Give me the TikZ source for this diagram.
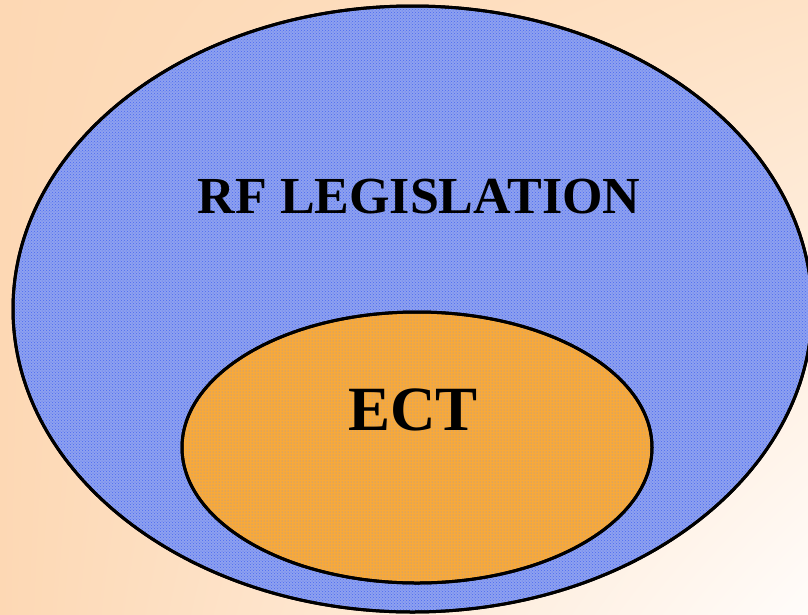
\documentclass[tikz,border=0pt]{standalone}
\usepackage{fontspec}
\setmainfont{Liberation Serif}
\usetikzlibrary{shapes.geometric,patterns,shadings}
\definecolor{peach}{HTML}{FDD8B4}
\definecolor{peachlight}{HTML}{FEE2C6}
\definecolor{paper}{HTML}{FFFCFA}
\definecolor{setblue}{HTML}{8EA1EF}
\definecolor{dotblue}{HTML}{4A6AF2}
\definecolor{setorange}{HTML}{F8A93A}
\definecolor{dotgrey}{HTML}{8C98C8}
\tikzset{
  setshape/.style={ellipse, draw=black, line width=3pt, inner sep=0pt},
  setlabel/.style={font=\bfseries, text=black, inner sep=0pt, anchor=base}
}
\begin{document}
\begin{tikzpicture}[x=1pt, y=-1pt]
        \useasboundingbox (0,0) rectangle (808,614);
        \shade[upper left=peach, lower left=peach, upper right=peachlight, lower right=paper] (0,0) rectangle (808,614);

        % outer set
        \node (rf) at (412.5,309) [setshape, fill=setblue, minimum width=799pt, minimum height=606pt] {};
        \fill[pattern=crosshatch dots, pattern color=dotblue] (rf.center) ellipse [x radius=397.5pt, y radius=301.5pt];
        \draw[line width=3pt] (rf.center) ellipse [x radius=399.5pt, y radius=303pt];
        \node (rflabel) at (419,213) [setlabel, font=\bfseries\fontsize{52}{52}\selectfont] {RF LEGISLATION};

        % inner set
        \node (ect) at (417,447.5) [setshape, fill=setorange, minimum width=470pt, minimum height=271pt] {};
        \fill[pattern=dots, pattern color=dotgrey] (ect.center) ellipse [x radius=233pt, y radius=133.5pt];
        \draw[line width=3pt] (ect.center) ellipse [x radius=235pt, y radius=135.5pt];
        \node (ectlabel) at (413,430) [setlabel, font=\bfseries\fontsize{63}{63}\selectfont] {ECT};
\end{tikzpicture}
\end{document}
